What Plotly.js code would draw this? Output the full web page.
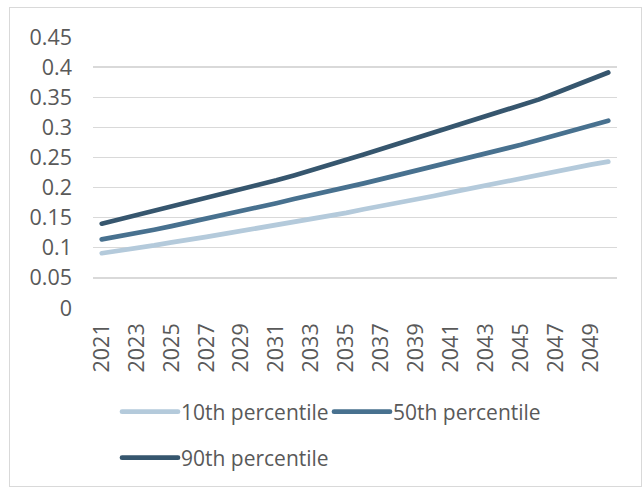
<!DOCTYPE html>
<html>
<head>
<meta charset="utf-8">
<script src="https://cdn.plot.ly/plotly-3.0.1.min.js"></script>
<style>
html,body{margin:0;padding:0;background:#fff;}
#wrap{position:relative;width:644px;height:489px;}
#frame{position:absolute;left:9px;top:7px;width:631px;height:478px;border:1px solid #d9d9d9;pointer-events:none;}
#chart{position:absolute;left:0;top:0;width:644px;height:489px;}
</style>
</head>
<body>
<div id="wrap"><div id="chart"></div><div id="frame"></div></div>
<script>
const years = ['2021','2022','2023','2024','2025','2026','2027','2028','2029','2030',
  '2031','2032','2033','2034','2035','2036','2037','2038','2039','2040',
  '2041','2042','2043','2044','2045','2046','2047','2048','2049','2050'];
const p10 = [0.091,0.095,0.100,0.104,0.109,0.113,0.118,0.123,0.128,0.132,
  0.137,0.143,0.148,0.153,0.158,0.164,0.169,0.175,0.180,0.186,
  0.192,0.198,0.204,0.210,0.216,0.221,0.227,0.232,0.238,0.243];
const p50 = [0.114,0.119,0.125,0.130,0.136,0.142,0.148,0.155,0.161,0.168,
  0.174,0.181,0.187,0.194,0.200,0.207,0.214,0.221,0.228,0.235,
  0.242,0.249,0.256,0.264,0.271,0.279,0.287,0.295,0.303,0.311];
const p90 = [0.140,0.147,0.154,0.161,0.168,0.175,0.182,0.189,0.196,0.204,
  0.212,0.220,0.228,0.237,0.246,0.255,0.264,0.273,0.282,0.291,
  0.300,0.309,0.318,0.327,0.336,0.346,0.357,0.368,0.379,0.391];
const xTicks = ['2021','2023','2025','2027','2029','2031','2033','2035','2037','2039','2041','2043','2045','2047','2049'];
const yTicks = [0,0.05,0.1,0.15,0.2,0.25,0.3,0.35,0.4,0.45];
const yTickText = ['0','0.05','0.1','0.15','0.2','0.25','0.3','0.35','0.4','0.45'];
const names = ['10th percentile','50th percentile','90th percentile'];
const colors = ['#b4cadb','#48718f','#36566e'];

const tickFont = {family:'Open Sans, sans-serif', size:21.5, color:'#595959'};
const legFont = {family:'Open Sans, sans-serif', size:21, color:'#595959'};
const lineStyle = (c) => ({color:c, width:4.7});
const traces = [
  {x:years, y:p10, name:names[0], mode:'lines', line:lineStyle(colors[0]), legend:'legend'},
  {x:years, y:p50, name:names[1], mode:'lines', line:lineStyle(colors[1]), legend:'legend'},
  {x:years, y:p90, name:names[2], mode:'lines', line:lineStyle(colors[2]), legend:'legend2'}
];
const legX = (141-93)/524;
const layout = {
  width:644, height:489,
  margin:{l:93, r:27, t:37, b:180},
  paper_bgcolor:'rgba(0,0,0,0)', plot_bgcolor:'rgba(0,0,0,0)',
  font:tickFont,
  showlegend:true,
  xaxis:{type:'category', tickmode:'array', tickvals:xTicks, ticktext:xTicks, tickangle:-90,
    showgrid:false, zeroline:false, showline:false, ticks:'', ticklabelstandoff:10,
    tickfont:tickFont, range:[-0.5,29.5]},
  yaxis:{range:[0,0.45], tickmode:'array', tickvals:yTicks, ticktext:yTickText,
    showgrid:true, gridcolor:'#d9d9d9', gridwidth:1.3, zeroline:false, showline:false, ticks:'',
    ticklabelstandoff:20, tickfont:tickFont},
  legend:{orientation:'h', x:legX, xanchor:'left', y:-(412-309)/272, yanchor:'middle',
    entrywidth:167, font:legFont, traceorder:'normal', bgcolor:'rgba(0,0,0,0)'},
  legend2:{orientation:'h', x:legX, xanchor:'left', y:-(458-309)/272, yanchor:'middle',
    entrywidth:167, font:legFont, bgcolor:'rgba(0,0,0,0)'}
};
Plotly.newPlot('chart', traces, layout, {displayModeBar:false, staticPlot:true}).then(function(gd){
  gd.querySelectorAll('.scatterlayer .js-line').forEach(function(p){
    p.style.strokeLinecap = 'round'; p.style.strokeLinejoin = 'round';
  });
  // lengthen legend line samples to match the reference legend keys
  gd.querySelectorAll('.scrollbox').forEach(function(s){ s.removeAttribute('clip-path'); });
  gd.querySelectorAll('.legendlines path').forEach(function(p){
    p.setAttribute('d','M-19,0h56');
    p.style.strokeLinecap = 'round';
  });
});
</script>
</body>
</html>
